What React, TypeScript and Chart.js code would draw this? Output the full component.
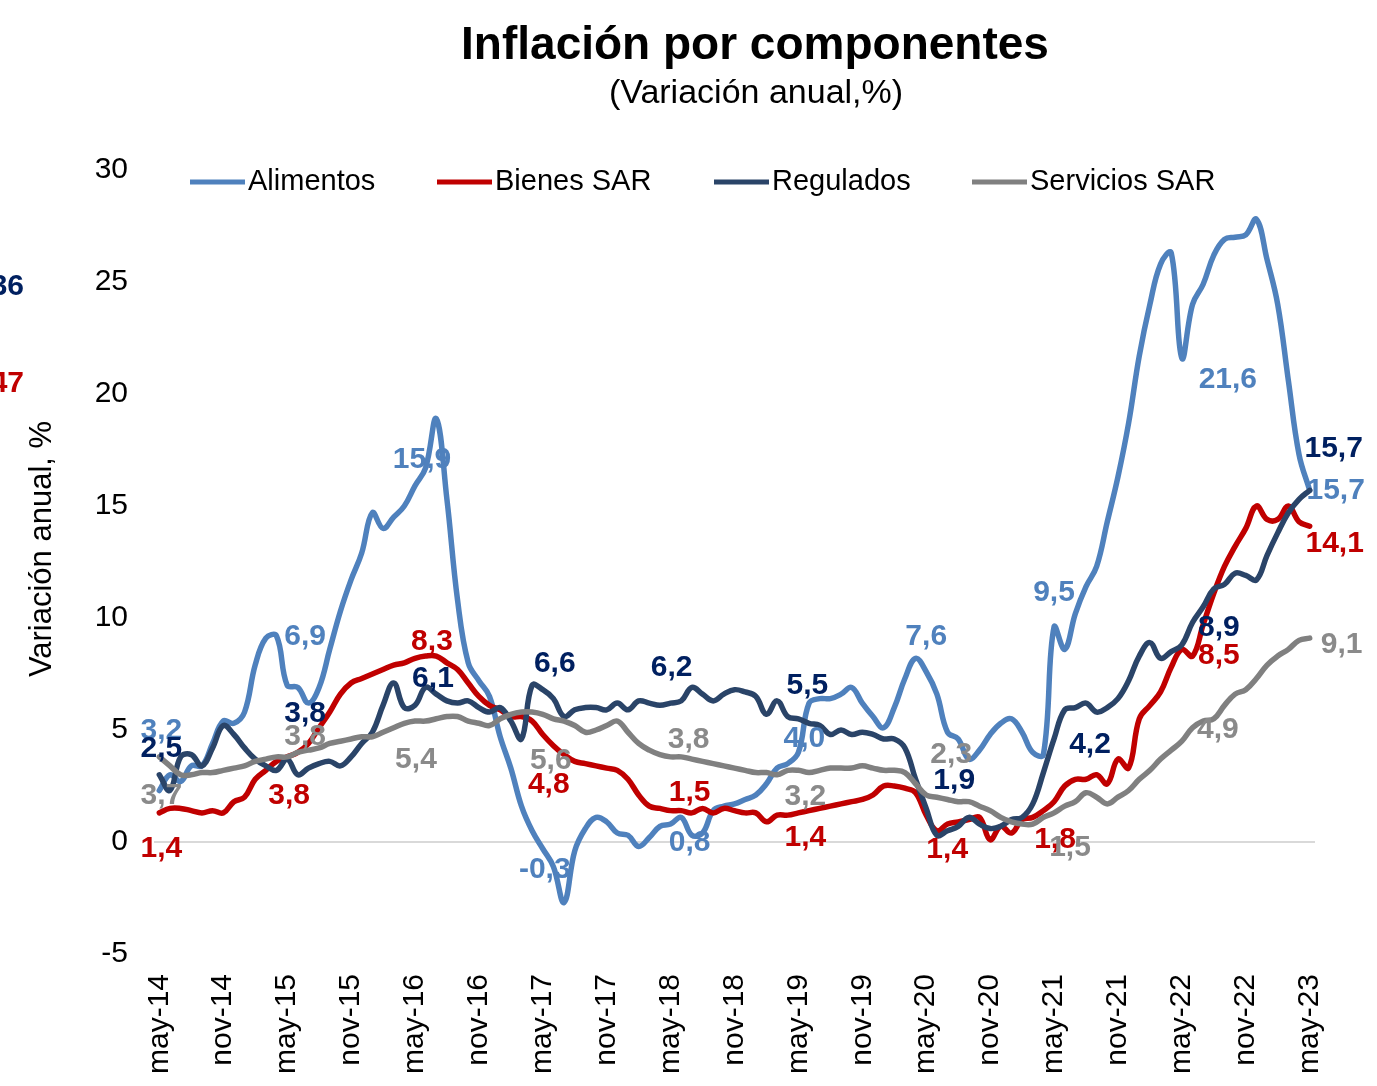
import React, { useEffect, useRef } from "react";
import { Chart, registerables } from "chart.js";

Chart.register(...registerables);

const FONT = "'Liberation Sans', Arial, Helvetica, sans-serif";

// ---------- categories ----------
const MONTHS = ["ene", "feb", "mar", "abr", "may", "jun", "jul", "ago", "sep", "oct", "nov", "dic"];
const START_YEAR = 14;
const START_MONTH = 4; // may
const N_MONTHS = 109;
const categories: string[] = Array.from({ length: N_MONTHS }, (_, i) => {
  const m = (START_MONTH + i) % 12;
  const y = START_YEAR + Math.floor((START_MONTH + i) / 12);
  return `${MONTHS[m]}-${y}`;
});
const TICK_EVERY = 6;

const Y_TICKS_MIN = -5;
const Y_TICKS_MAX = 30;
const Y_STEP = 5;

// ---------- series ----------
const alimentos = [
  2.3, 3.0, 2.7, 3.4, 3.4, 4.4, 5.4, 5.3, 5.8, 7.9, 9.1, 9.2,
  7.0, 6.9, 6.2, 6.9, 8.6, 10.3, 11.7, 12.9, 14.7, 14.0, 14.5, 15.0,
  15.9, 16.7, 18.9, 15.3, 10.8, 8.0, 7.2, 6.5, 4.7, 3.3, 1.6, 0.5,
  -0.3, -1.1, -2.7, -0.4, 0.6, 1.1, 0.9, 0.4, 0.3, -0.2, 0.2, 0.7,
  0.8, 1.1, 0.3, 0.4, 1.4, 1.6, 1.7, 1.9, 2.1, 2.6, 3.3, 3.5,
  4.0, 6.2, 6.4, 6.4, 6.6, 6.9, 6.2, 5.6, 5.1, 6.0, 7.3, 8.2,
  7.6, 6.6, 4.9, 4.6, 3.7, 4.1, 4.8, 5.3, 5.5, 4.9, 4.0, 3.9,
  9.6, 8.6, 10.2, 11.4, 12.3, 14.3, 16.3, 18.7, 21.7, 24.0, 25.8, 26.3,
  21.6, 24.0, 24.9, 26.2, 26.9, 27.0, 27.1, 27.8, 26.0, 24.0, 20.6, 17.3,
  15.7,
];

const bienesSAR = [
  1.3, 1.5, 1.5, 1.4, 1.3, 1.4, 1.3, 1.8, 2.0, 2.8, 3.2, 3.6,
  3.8, 4.0, 4.4, 5.1, 5.8, 6.6, 7.1, 7.3, 7.5, 7.7, 7.9, 8.0,
  8.2, 8.3, 8.3, 8.0, 7.7, 7.1, 6.5, 6.1, 5.9, 5.6, 5.6, 5.4,
  4.8, 4.3, 3.9, 3.6, 3.5, 3.4, 3.3, 3.2, 2.8, 2.1, 1.6, 1.5,
  1.4, 1.4, 1.3, 1.5, 1.3, 1.5, 1.4, 1.3, 1.3, 0.9, 1.2, 1.2,
  1.3, 1.4, 1.5, 1.6, 1.7, 1.8, 1.9, 2.1, 2.5, 2.5, 2.4, 2.2,
  1.2, 0.5, 0.8, 0.9, 1.0, 1.1, 0.1, 0.7, 0.4, 1.0, 1.1, 1.4,
  1.8, 2.5, 2.8, 2.8, 3.0, 2.6, 3.7, 3.3, 5.5, 6.1, 6.7, 7.8,
  8.6, 8.3, 9.7, 11.1, 12.3, 13.2, 14.0, 15.0, 14.4, 14.4, 15.0, 14.3,
  14.1,
];

const regulados = [
  3.0, 2.3, 3.8, 3.9, 3.4, 4.2, 5.2, 4.8, 4.2, 3.7, 3.4, 3.2,
  3.7, 3.0, 3.3, 3.5, 3.6, 3.4, 3.8, 4.4, 4.9, 6.1, 7.1, 6.0,
  6.1, 6.9, 6.6, 6.3, 6.2, 6.3, 6.0, 5.8, 6.0, 5.4, 4.6, 7.0,
  6.8, 6.4, 5.6, 5.9, 6.0, 6.0, 5.9, 6.2, 5.9, 6.3, 6.2, 6.1,
  6.2, 6.3, 6.9, 6.6, 6.3, 6.6, 6.8, 6.7, 6.5, 5.7, 6.3, 5.6,
  5.5, 5.3, 5.2, 4.8, 5.0, 4.8, 4.9, 4.8, 4.6, 4.6, 4.2, 2.8,
  1.5, 0.3, 0.5, 0.7, 1.1, 0.8, 0.6, 0.7, 1.0, 1.1, 1.7, 3.1,
  4.6, 5.9, 6.0, 6.2, 5.8, 6.0, 6.4, 7.2, 8.3, 8.9, 8.2, 8.5,
  8.8, 9.8, 10.5, 11.3, 11.5, 12.0, 11.9, 11.7, 12.8, 13.8, 14.7, 15.3,
  15.7,
];

const serviciosSAR = [
  3.8, 3.4, 3.0, 3.0, 3.1, 3.1, 3.2, 3.3, 3.4, 3.6, 3.7, 3.8,
  3.8, 4.0, 4.1, 4.2, 4.4, 4.5, 4.6, 4.7, 4.7, 4.9, 5.1, 5.3,
  5.4, 5.4, 5.5, 5.6, 5.6, 5.4, 5.3, 5.2, 5.5, 5.7, 5.8, 5.8,
  5.7, 5.5, 5.4, 5.2, 4.9, 5.0, 5.2, 5.4, 4.9, 4.4, 4.1, 3.9,
  3.8, 3.8, 3.7, 3.6, 3.5, 3.4, 3.3, 3.2, 3.1, 3.1, 3.0, 3.2,
  3.2, 3.1, 3.2, 3.3, 3.3, 3.3, 3.4, 3.3, 3.2, 3.2, 3.1, 2.6,
  2.1, 2.0, 1.9, 1.8, 1.8, 1.6, 1.4, 1.1, 0.9, 0.8, 0.8, 1.1,
  1.3, 1.6, 1.8, 2.2, 2.0, 1.7, 2.0, 2.3, 2.8, 3.2, 3.7, 4.1,
  4.5, 5.1, 5.4, 5.5, 6.1, 6.6, 6.8, 7.3, 7.9, 8.3, 8.6, 9.0,
  9.1,
];

// ---------- data labels (shown at each May) ----------
const LABEL_IDX = [0, 12, 24, 36, 48, 60, 72, 84, 96, 108];
const alimentosLabels = ["3,2", "6,9", "15,9", "-0,3", "0,8", "4,0", "7,6", "9,5", "21,6", "15,7"];
const bienesLabels = ["1,4", "3,8", "8,3", "4,8", "1,5", "1,4", "1,4", "1,8", "8,5", "14,1"];
const reguladosLabels = ["2,5", "3,8", "6,1", "6,6", "6,2", "5,5", "1,9", "4,2", "8,9", "15,7"];
const serviciosLabels = ["3,7", "3,8", "5,4", "5,6", "3,8", "3,2", "2,3", "1,5", "4,9", "9,1"];

// pixel offsets of each label from its point (style)
const alimentosOffsets = [[2, -60], [18, -48], [7, -26], [2, 21], [19, 19], [6, -14], [0, -35], [0, -34], [46, 22], [26, 0]];
const bienesOffsets = [[2, 36], [2, 39], [17, -17], [6, 50], [19, -18], [7, 25], [21, 35], [1, 38], [37, 6], [25, 18]];
const reguladosOffsets = [[2, -26], [18, -45], [18, -27], [12, -26], [1, -35], [9, -33], [28, -28], [36, 6], [37, -17], [24, -42]];
const serviciosOffsets = [[2, 39], [18, -20], [1, 39], [8, 46], [18, -17], [7, 26], [25, -40], [16, 35], [36, -11], [32, 7]];

const SERIES = [
  { name: "Alimentos", data: alimentos, color: "#4F81BD", labelColor: "#4F81BD", labels: alimentosLabels, offsets: alimentosOffsets, order: 4 },
  { name: "Bienes SAR", data: bienesSAR, color: "#C00000", labelColor: "#C00000", labels: bienesLabels, offsets: bienesOffsets, order: 3 },
  { name: "Regulados", data: regulados, color: "#2A4468", labelColor: "#002060", labels: reguladosLabels, offsets: reguladosOffsets, order: 2 },
  { name: "Servicios SAR", data: serviciosSAR, color: "#808080", labelColor: "#8A8A8A", labels: serviciosLabels, offsets: serviciosOffsets, order: 1 },
];

const LEGEND_X = [190, 437, 714, 972];
const LEGEND_Y = 182;

export default function App() {
  const canvasRef = useRef<HTMLCanvasElement | null>(null);

  useEffect(() => {
    document.body.style.margin = "0";
    const canvas = canvasRef.current;
    if (!canvas) return;

    const decorPlugin = {
      id: "decor",
      afterDatasetsDraw(chart: any) {
        const ctx = chart.ctx;
        ctx.save();
        ctx.font = `bold 30px ${FONT}`;
        ctx.textAlign = "center";
        ctx.textBaseline = "middle";
        SERIES.forEach((s, si) => {
          const meta = chart.getDatasetMeta(si);
          LABEL_IDX.forEach((idx, k) => {
            const pt = meta.data[idx];
            if (!pt) return;
            const [dx, dy] = s.offsets[k];
            ctx.fillStyle = s.labelColor;
            ctx.fillText(s.labels[k], pt.x + dx, pt.y + dy);
          });
        });
        ctx.restore();
      },
      afterDraw(chart: any) {
        const ctx = chart.ctx;
        ctx.save();
        // title
        ctx.fillStyle = "#000";
        ctx.textAlign = "center";
        ctx.textBaseline = "alphabetic";
        ctx.font = `bold 46px ${FONT}`;
        ctx.fillText("Inflación por componentes", 755, 59);
        ctx.font = `34px ${FONT}`;
        ctx.fillText("(Variación anual,%)", 756, 103);

        // y axis title
        ctx.save();
        ctx.translate(42, 549);
        ctx.rotate(-Math.PI / 2);
        ctx.textBaseline = "middle";
        ctx.font = `31px ${FONT}`;
        ctx.fillText("Variación anual, %", 0, 0);
        ctx.restore();

        // legend
        ctx.font = `29px ${FONT}`;
        ctx.textAlign = "left";
        ctx.textBaseline = "middle";
        SERIES.forEach((s, i) => {
          const x = LEGEND_X[i];
          ctx.strokeStyle = s.color;
          ctx.lineWidth = 5;
          ctx.beginPath();
          ctx.moveTo(x, LEGEND_Y);
          ctx.lineTo(x + 55, LEGEND_Y);
          ctx.stroke();
          ctx.fillStyle = "#000";
          ctx.fillText(s.name, x + 58, LEGEND_Y);
        });

        // cut-off labels at left edge
        ctx.font = `bold 30px ${FONT}`;
        ctx.textAlign = "right";
        ctx.fillStyle = "#002060";
        ctx.fillText("36", 24, 287);
        ctx.fillStyle = "#C00000";
        ctx.fillText("47", 24, 384);
        ctx.restore();
      },
    };

    const chart = new Chart(canvas, {
      type: "line",
      data: {
        labels: categories,
        datasets: SERIES.map((s) => ({
          label: s.name,
          data: s.data,
          borderColor: s.color,
          backgroundColor: s.color,
          borderWidth: 5.5,
          pointRadius: 0,
          tension: 0.4,
          fill: false,
          order: s.order,
          borderCapStyle: "round" as const,
          borderJoinStyle: "round" as const,
        })),
      },
      options: {
        animation: false,
        responsive: false,
        maintainAspectRatio: false,
        layout: { padding: { top: 170, right: 62, left: 0, bottom: 0 } },
        plugins: {
          legend: { display: false },
          title: { display: false },
          tooltip: { enabled: false },
        },
        scales: {
          x: {
            type: "category",
            offset: true,
            grid: { display: false, drawTicks: false },
            border: { display: false },
            ticks: {
              autoSkip: false,
              maxRotation: 90,
              minRotation: 90,
              padding: 20,
              color: "#000",
              font: { family: FONT, size: 30 },
              callback: (_v: any, idx: number) => (idx % TICK_EVERY === 0 ? categories[idx] : ""),
            },
            afterFit: (scale: any) => {
              scale.height = 132;
            },
          },
          y: {
            min: Y_TICKS_MIN,
            max: Y_TICKS_MAX,
            ticks: {
              stepSize: Y_STEP,
              padding: 26,
              color: "#000",
              font: { family: FONT, size: 30 },
            },
            grid: {
              drawTicks: false,
              lineWidth: 2,
              color: (c: any) => (c.tick && c.tick.value === 0 ? "#D9D9D9" : "rgba(0,0,0,0)"),
            },
            border: { display: false },
            afterFit: (scale: any) => {
              scale.width = 154;
            },
          },
        },
      },
      plugins: [decorPlugin],
    });

    return () => chart.destroy();
  }, []);

  return (
    <div style={{ width: 1377, height: 1086 }}>
      <canvas ref={canvasRef} width={1377} height={1086} style={{ display: "block" }} />
    </div>
  );
}
